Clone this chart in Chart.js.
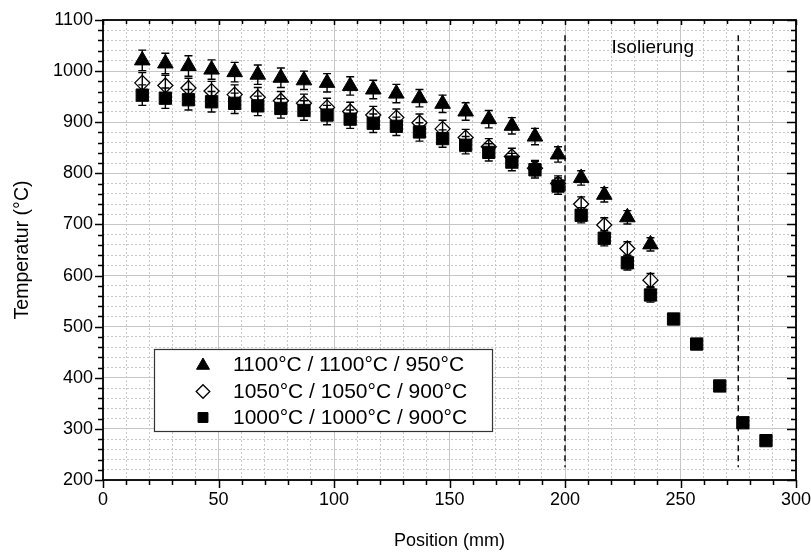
<!DOCTYPE html>
<html><head><meta charset="utf-8">
<script src="https://cdn.jsdelivr.net/npm/chart.js@4.4.0/dist/chart.umd.min.js"></script>
<style>html,body{margin:0;padding:0;background:#fff}#wrap{width:811px;height:552px}</style>
</head><body><div id="wrap"><canvas id="c" width="811" height="552"></canvas></div>
<script>
// ---- data ----
const positionsShort = [17,27,37,47,57,67,77,87,97,107,117,127,137,147,157,167,177,187,197,207,217,227,237];
const positionsLong = [17,27,37,47,57,67,77,87,97,107,117,127,137,147,157,167,177,187,197,207,217,227,237,247,257,267,277,287];
const temp1100 = [1021,1015,1010,1003,998,993,987,982,977,971,964,956,947,936,921,906,893,872,837,791,758,714,661];
const err1100  = [20,20,20,19,19,19,19,18,18,18,18,18,17,17,17,17,16,16,15,14,14,13,13];
const temp1050 = [977,972,967,961,954,949,942,937,929,921,914,909,899,887,870,852,833,810,780,740,699,653,591];
const err1050  = [20,20,19,19,19,19,18,18,18,18,17,17,17,17,16,16,16,15,15,14,14,13,13];
const temp1000 = [953,947,944,940,937,932,927,923,914,906,898,892,881,868,855,841,822,807,775,718,673,625,562,515,466,384,312,277];
const err1000  = [20,20,20,20,20,19,19,19,19,18,18,18,18,17,17,17,17,16,16,15,15,14,14,6,6,5,5,5];
const seriesLabels = ['1100°C / 1100°C / 950°C','1050°C / 1050°C / 900°C','1000°C / 1000°C / 900°C'];
const insulationX = [200, 275];
const insulationYRange = [1070, 225];
const insulationLabel = 'Isolierung';
const insulationLabelPos = [238, 1045];
const xTitle = 'Position (mm)';
const yTitle = 'Temperatur (°C)';

const FONT = '"Liberation Sans", Arial, sans-serif';

function pts(xs, ys){ return xs.map((x,i)=>({x:x, y:ys[i]})); }

const datasets = [
  {label:seriesLabels[0], data:pts(positionsShort,temp1100), errors:err1100, pointStyle:'triangle', pointRadius:9,
   backgroundColor:'#000', borderColor:'#000', borderWidth:1, order:3, showLine:false, legendRadius:7.5},
  {label:seriesLabels[1], data:pts(positionsShort,temp1050), errors:err1050, pointStyle:'rectRot', pointRadius:7.5,
   backgroundColor:'#fff', borderColor:'#000', borderWidth:1.3, order:2, showLine:false, legendRadius:6.8},
  {label:seriesLabels[2], data:pts(positionsLong,temp1000), errors:err1000, pointStyle:'rect', pointRadius:8.7,
   backgroundColor:'#000', borderColor:'#000', borderWidth:1, order:1, showLine:false, legendRadius:7}
];
insulationX.forEach(xv=>{
  datasets.push({type:'line', isGuide:true, data:[{x:xv,y:insulationYRange[0]},{x:xv,y:insulationYRange[1]}],
    borderColor:'#000', borderWidth:1.4, borderDash:[6,4], pointRadius:0, showLine:true, fill:false, order:10});
});

function drawMarker(ctx, style, r, x, y, fill, stroke, bw){
  ctx.save();
  ctx.fillStyle = fill; ctx.strokeStyle = stroke; ctx.lineWidth = bw;
  if (Chart.helpers && Chart.helpers.drawPoint){
    Chart.helpers.drawPoint(ctx, {pointStyle:style, radius:r, borderWidth:bw, rotation:0}, x, y);
  }
  ctx.restore();
}

const errorBarPlugin = {
  id:'errorBars',
  afterDatasetsDraw(chart){
    const ctx = chart.ctx, ys = chart.scales.y;
    ctx.save();
    ctx.strokeStyle = '#000'; ctx.lineWidth = 1.4;
    chart.data.datasets.forEach((ds, di)=>{
      if (!ds.errors) return;
      const meta = chart.getDatasetMeta(di);
      meta.data.forEach((el, i)=>{
        const e = ds.errors[i]; const v = ds.data[i].y;
        const x = el.x;
        const yt = ys.getPixelForValue(v + e), yb = ys.getPixelForValue(v - e), yc = el.y;
        ctx.beginPath();
        ctx.moveTo(x, yc); ctx.lineTo(x, yt);
        ctx.moveTo(x, yc); ctx.lineTo(x, yb);
        ctx.moveTo(x-4, yt); ctx.lineTo(x+4, yt);
        ctx.moveTo(x-4, yb); ctx.lineTo(x+4, yb);
        ctx.stroke();
      });
    });
    ctx.restore();
  }
};

const framePlugin = {
  id:'frame',
  afterDraw(chart){
    const ctx = chart.ctx, a = chart.chartArea, xs = chart.scales.x, ys = chart.scales.y;
    ctx.save();
    ctx.strokeStyle = '#000'; ctx.lineWidth = 1.5;
    ctx.beginPath();
    for (let v = ys.min; v <= ys.max + 0.001; v += 20){
      const p = Math.round(ys.getPixelForValue(v)) + 0.5;
      const major = v % 100 === 0;
      ctx.moveTo(a.left, p); ctx.lineTo(a.left - (major ? 8 : 5), p);
      ctx.moveTo(a.right, p); ctx.lineTo(a.right - (major ? 9 : 5), p);
    }
    for (let v = xs.min; v <= xs.max + 0.001; v += 10){
      const p = Math.round(xs.getPixelForValue(v)) + 0.5;
      const major = v % 50 === 0;
      ctx.moveTo(p, a.bottom); ctx.lineTo(p, a.bottom + (major ? 8 : 5));
      ctx.moveTo(p, a.top); ctx.lineTo(p, a.top + (major ? 5 : 4));
    }
    ctx.stroke();
    ctx.lineWidth = 1.8;
    ctx.strokeRect(a.left, a.top, a.right - a.left, a.bottom - a.top);
    ctx.fillStyle = '#000';
    ctx.font = '19px ' + FONT;
    ctx.textAlign = 'center'; ctx.textBaseline = 'middle';
    ctx.fillText(insulationLabel, xs.getPixelForValue(insulationLabelPos[0]), ys.getPixelForValue(insulationLabelPos[1]));
    const bx = a.left + 51, by = a.top + 329, bw = 338, bh = 82;
    ctx.fillStyle = '#fff';
    ctx.fillRect(bx, by, bw, bh);
    ctx.lineWidth = 1.2; ctx.strokeStyle = '#333';
    ctx.strokeRect(bx + 0.5, by + 0.5, bw, bh);
    const rows = [15, 42.5, 68.5];
    ctx.font = '21px ' + FONT; ctx.textAlign = 'left'; ctx.textBaseline = 'middle';
    chart.data.datasets.filter(d=>!d.isGuide).forEach((d, i)=>{
      const yy = by + rows[i];
      drawMarker(ctx, d.pointStyle, d.legendRadius, bx + 49, yy + (d.pointStyle==='triangle'?1.5:0), d.backgroundColor, d.borderColor, d.borderWidth);
      ctx.fillStyle = '#000';
      ctx.fillText(d.label, bx + 79, yy + 1);
    });
    ctx.restore();
  }
};

new Chart(document.getElementById('c'), {
  type:'scatter',
  data:{datasets:datasets},
  options:{
    responsive:false, animation:false, devicePixelRatio:1, events:[],
    layout:{padding:{top:20, right:0, left:0, bottom:0}},
    plugins:{legend:{display:false}, tooltip:{enabled:false}},
    scales:{
      x:{type:'linear', min:0, max:300,
        afterFit(s){ s.height = 72; s.paddingRight = 15; s.paddingLeft = 0; },
        ticks:{stepSize:10, autoSkip:false, maxRotation:0, padding:9, color:'#000',
          font:{family:FONT, size:18}, callback:v=> (v % 50 === 0 ? v : '')},
        grid:{drawTicks:false, lineWidth:1,
          color:c=> (c.tick && c.tick.value % 50 === 0) ? '#c6c6c6' : '#c8c8c8'},
        border:{display:false, dash:c=> (c.tick && c.tick.value % 50 !== 0) ? [2,2] : []},
        title:{display:true, text:xTitle, color:'#000', font:{family:FONT, size:18}, padding:{top:14, bottom:0}}
      },
      y:{type:'linear', min:200, max:1100,
        afterFit(s){ s.width = 103; s.paddingTop = 0; s.paddingBottom = 0; },
        ticks:{stepSize:20, autoSkip:false, padding:10, color:'#000',
          font:{family:FONT, size:18}, callback:v=> (v % 100 === 0 ? v : '')},
        grid:{drawTicks:false, lineWidth:1,
          color:c=> (c.tick && c.tick.value % 100 === 0) ? '#c6c6c6' : '#c8c8c8'},
        border:{display:false, dash:c=> (c.tick && c.tick.value % 100 !== 0) ? [2,2] : []},
        title:{display:true, text:yTitle, color:'#000', font:{family:FONT, size:19.5}, padding:{top:11, bottom:0}}
      }
    }
  },
  plugins:[errorBarPlugin, framePlugin]
});
</script>
</body></html>
